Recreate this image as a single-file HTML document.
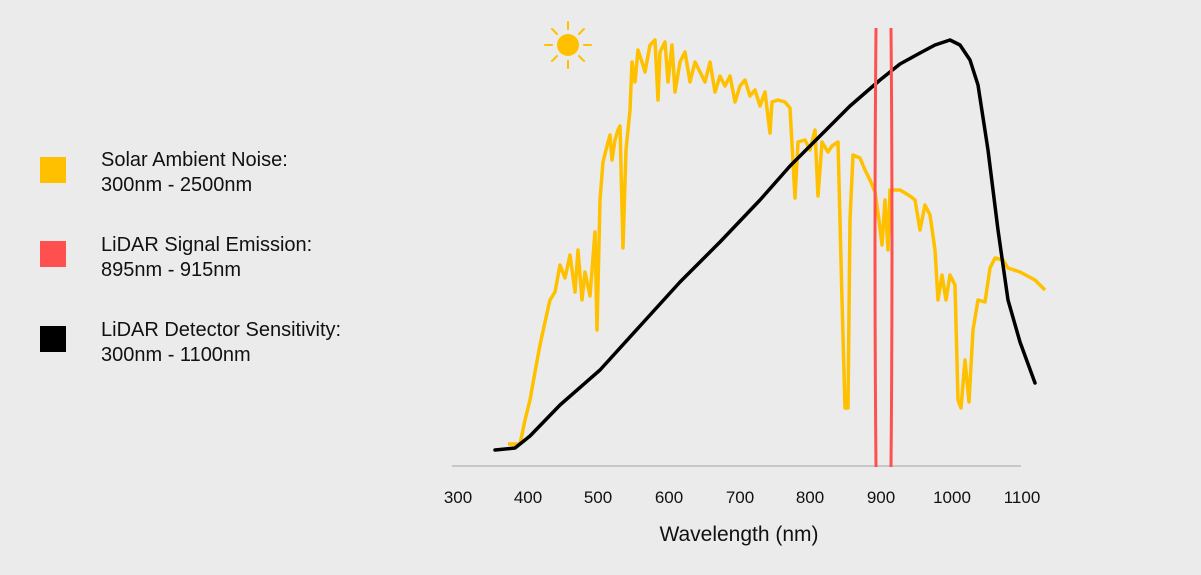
<!DOCTYPE html>
<html><head><style>
body{margin:0;width:1201px;height:575px;background:#ebebeb;overflow:hidden;font-family:"Liberation Sans",sans-serif}
.sq{position:absolute;left:40px;width:26px;height:26px}
.t{position:absolute;left:101px;font-size:20px;line-height:25px;color:#111}
</style></head><body>
<div class="sq" style="top:157px;background:#ffc000"></div>
<div class="t" style="top:148px">Solar Ambient Noise:<br>300nm - 2500nm</div>
<div class="sq" style="top:241px;background:#ff5050"></div>
<div class="t" style="top:233px">LiDAR Signal Emission:<br>895nm - 915nm</div>
<div class="sq" style="top:326px;background:#000"></div>
<div class="t" style="top:318px">LiDAR Detector Sensitivity:<br>300nm - 1100nm</div>
<svg width="1201" height="575" style="position:absolute;left:0;top:0">
<line x1="452" y1="466" x2="1021" y2="466" stroke="#bbb" stroke-width="1.5"/>
<g font-family="Liberation Sans,sans-serif" font-size="17" fill="#111" text-anchor="middle">
<text x="458" y="503">300</text><text x="528" y="503">400</text><text x="598" y="503">500</text><text x="669" y="503">600</text><text x="740" y="503">700</text><text x="810" y="503">800</text><text x="881" y="503">900</text><text x="952" y="503">1000</text><text x="1022" y="503">1100</text>
<text x="739" y="541" font-size="21">Wavelength (nm)</text></g>
<g stroke="#ffc000" stroke-width="2" stroke-linecap="round">
<circle cx="568" cy="45" r="11" fill="#ffc000" stroke="none"/>
<line x1="568" y1="22" x2="568" y2="29"/><line x1="568" y1="61" x2="568" y2="68"/>
<line x1="545" y1="45" x2="552" y2="45"/><line x1="584" y1="45" x2="591" y2="45"/>
<line x1="552" y1="29" x2="557" y2="34"/><line x1="579" y1="56" x2="584" y2="61"/>
<line x1="552" y1="61" x2="557" y2="56"/><line x1="579" y1="34" x2="584" y2="29"/>
</g>
<polyline fill="none" stroke="#ffc000" stroke-width="3.5" stroke-linejoin="round" points="508,444 520,444 525,420 530,400 535,372 540,345 545,322 550,300 555,292 560,265 565,278 570,255 575,292 578,250 582,300 585,272 590,296 595,232 597,330 600,200 603,162 606,150 610,135 612,160 615,140 618,130 620,126 623,248 626,150 630,110 632,62 635,82 638,50 642,62 645,72 650,45 655,40 658,100 660,52 665,42 668,82 672,45 675,92 680,62 685,52 690,82 695,62 700,72 705,82 710,62 715,92 720,76 725,86 730,76 735,102 740,86 745,80 750,96 755,90 760,106 765,92 770,133 772,102 778,100 785,102 790,108 795,198 798,142 805,140 810,150 815,130 818,196 822,142 828,152 832,146 838,142 842,300 845,408 848,408 850,220 853,155 860,158 865,170 870,180 875,192 879,220 882,245 885,200 888,250 890,190 900,190 910,196 915,200 920,230 925,205 930,215 935,250 938,300 942,275 946,300 950,275 955,285 958,400 961,408 965,360 969,402 973,330 978,300 985,302 990,268 995,258 1003,260 1008,268 1020,272 1035,280 1045,290"/>
<polyline fill="none" stroke="#000" stroke-width="3.5" stroke-linejoin="round" stroke-linecap="round" points="495,450 515,448 530,436 560,405 600,370 640,326 680,282 720,242 760,200 790,166 820,136 850,106 880,80 900,64 920,53 935,45 950,40 960,45 970,60 978,85 988,150 998,230 1008,300 1020,342 1035,383"/>
<path d="M876,28 Q874,250 876,467 M891,28 Q893,250 891,467" fill="none" stroke="#ff5050" stroke-width="3"/>
</svg>
</body></html>
